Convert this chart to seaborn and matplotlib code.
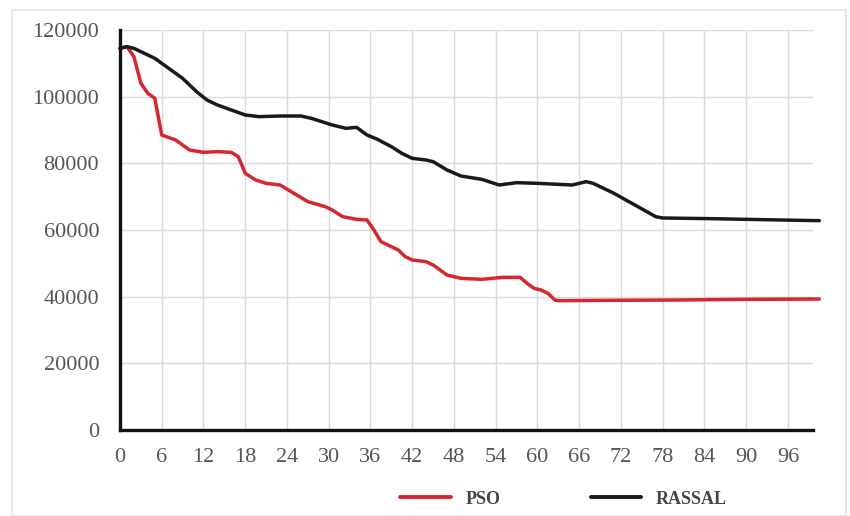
import matplotlib
matplotlib.use("Agg")
import matplotlib.pyplot as plt
import seaborn as sns
import pandas as pd
from matplotlib.patches import Rectangle
from matplotlib.lines import Line2D

# ---- data ----
pso_x = [0, 1, 2, 3, 4, 5, 6, 8, 10, 12, 14, 16, 17, 18, 19.5, 21, 23, 25, 27,
         29.5, 30.5, 32, 34, 35.5, 36.5, 37.5, 39, 40, 41, 42, 44, 45, 47, 49,
         52, 55, 57.5, 58.5, 59.5, 60.5, 61.5, 62.5, 63, 70, 80, 90, 100.5]
pso_y = [114500, 115000, 112000, 104000, 101000, 99500, 88500, 87000, 84000,
         83300, 83500, 83300, 82000, 77000, 75000, 74000, 73500, 71000, 68500,
         67000, 66000, 64000, 63200, 63000, 60000, 56500, 55000, 54000, 52000,
         51000, 50500, 49500, 46500, 45500, 45200, 45800, 45800, 44000, 42500,
         42000, 41000, 39000, 38800, 38900, 39000, 39200, 39300]

rassal_x = [0, 1, 2, 3, 5, 7, 9, 11, 12.5, 14, 16, 18, 20, 23, 26, 27.5, 29,
            30.5, 32.5, 34, 35.5, 37, 39, 40.5, 42, 44, 45, 47, 49, 52, 54.5,
            57, 60, 65, 67, 68, 71, 74, 77, 78, 85, 95, 100.5]
rassal_y = [114500, 115000, 114500, 113500, 111500, 108500, 105500, 101500,
            99000, 97500, 96000, 94500, 94000, 94200, 94200, 93500, 92500,
            91500, 90500, 90800, 88500, 87200, 85000, 83000, 81500, 81000,
            80500, 78000, 76200, 75200, 73500, 74200, 74000, 73500, 74500,
            74000, 71000, 67500, 64000, 63600, 63400, 63000, 62800]

series_names = ["PSO", "RASSAL"]
series_colors = ["#d8262f", "#1a1a1a"]
x_ticks = list(range(0, 97, 6))
y_ticks = [0, 20000, 40000, 60000, 80000, 100000, 120000]

df = pd.concat([
    pd.DataFrame({"iter": pso_x, "value": pso_y, "algo": "PSO"}),
    pd.DataFrame({"iter": rassal_x, "value": rassal_y, "algo": "RASSAL"}),
])

sns.set_theme(style="white")
plt.rcParams["font.family"] = ["Liberation Serif", "DejaVu Serif"]

fig = plt.figure(figsize=(8.5, 5.16), dpi=100)
ax = fig.add_axes([120 / 850, 1 - 430 / 516, (813 - 120) / 850, 400 / 516])

sns.lineplot(data=df, x="iter", y="value", hue="algo", hue_order=series_names,
             palette=series_colors, linewidth=2.5, ax=ax, legend=False,
             estimator=None, sort=False)
for ln in ax.lines:
    ln.set_clip_on(False)
    ln.set_solid_joinstyle("round")

ax.set_xlim(0, 99.6)
ax.set_ylim(0, 120000)
ax.set_xticks(x_ticks)
ax.set_yticks(y_ticks)
ax.set_xticklabels([str(t) for t in x_ticks])
ax.set_yticklabels([str(t) for t in y_ticks])
ax.set_xlabel("")
ax.set_ylabel("")

ax.grid(True, color="#dadada", linewidth=1.0)
ax.set_axisbelow(True)
for side in ["top", "right"]:
    ax.spines[side].set_visible(False)
for side in ["left", "bottom"]:
    ax.spines[side].set_color("#111111")
    ax.spines[side].set_linewidth(2.4)

ax.tick_params(axis="both", length=0, labelsize=16, labelcolor="#555555")
ax.tick_params(axis="y", pad=15)
ax.tick_params(axis="x", pad=13)

# legend
handles = [Line2D([0], [0], color=c, lw=2.8) for c in series_colors]
leg = fig.legend(handles, series_names, loc="center", ncol=2,
                 bbox_to_anchor=(0.663, 1 - 499 / 516), frameon=False,
                 handlelength=2.8, columnspacing=5.0, handletextpad=0.8,
                 prop={"family": "Liberation Serif", "weight": "bold", "size": 13})
for t in leg.get_texts():
    t.set_color("#444444")

# faint outer frame
fig.patches.append(Rectangle((12 / 850, 0), 834 / 850, 1 - 10 / 516,
                             transform=fig.transFigure, fill=False,
                             edgecolor="#e4e4e4", linewidth=1.2))

fig.savefig("out.png", dpi=100)
